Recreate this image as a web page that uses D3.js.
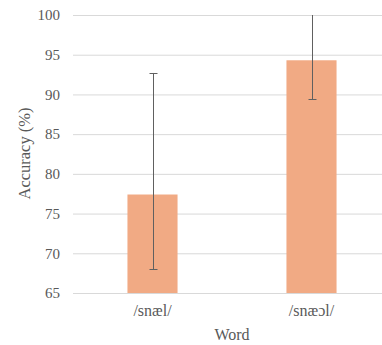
<!DOCTYPE html>
<html><head><meta charset="utf-8">
<script src="https://cdn.jsdelivr.net/npm/d3@7"></script>
<style>body{margin:0;background:#fff}svg{display:block}
svg text{font-family:"Liberation Serif","Times New Roman","DejaVu Serif",serif !important;}</style>
</head><body>
<script>
const categories = ["/snæl/", "/snæɔl/"];
const values = [77.4, 94.3];
const errLow = [68.0, 89.4];
const errHigh = [92.7, 101.5];
const yTicks = [65, 70, 75, 80, 85, 90, 95, 100];

const W = 382, H = 345;
const svg = d3.select("body").append("svg").attr("width", W).attr("height", H);
const y = d3.scaleLinear().domain([65, 100]).range([293, 15]);
const x = d3.scaleBand().domain(categories).range([73, 391]).paddingInner(0.685).paddingOuter(0.3425);

svg.append("defs").append("clipPath").attr("id", "clip")
  .append("rect").attr("x", 0).attr("y", y(100)).attr("width", W).attr("height", y(65) - y(100));

const yAxis = svg.append("g").attr("transform", "translate(73,0)")
  .call(d3.axisLeft(y).tickValues(yTicks).tickSize(-(W - 73)).tickPadding(13).tickFormat(d3.format("d")));
yAxis.attr("font-family", null);
yAxis.select(".domain").remove();
yAxis.selectAll(".tick line").attr("stroke", "#d9d9d9").attr("stroke-width", 1);
yAxis.selectAll(".tick text").attr("fill", "#595959").style("font-size", "15px");

svg.append("g").selectAll("rect").data(categories).join("rect")
  .attr("x", d => x(d)).attr("width", x.bandwidth())
  .attr("y", (d, i) => y(values[i])).attr("height", (d, i) => y(65) - y(values[i]))
  .attr("fill", "#f1aa84");

const eg = svg.append("g").attr("clip-path", "url(#clip)").attr("stroke", "#606060").attr("stroke-width", 1);
categories.forEach((c, i) => {
  const cx = Math.round(x(c) + x.bandwidth() / 2) + 0.5;
  eg.append("line").attr("x1", cx).attr("x2", cx).attr("y1", y(errLow[i])).attr("y2", y(errHigh[i]));
  [errLow[i], errHigh[i]].forEach(v => {
    if (v <= 100) eg.append("line").attr("x1", cx - 4).attr("x2", cx + 4).attr("y1", Math.round(y(v)) + 0.5).attr("y2", Math.round(y(v)) + 0.5);
  });
});

const xAxis = svg.append("g").attr("transform", "translate(0,293)")
  .call(d3.axisBottom(x).tickSize(0).tickPadding(12));
xAxis.attr("font-family", null);
xAxis.select(".domain").attr("stroke", "#d9d9d9");
xAxis.selectAll(".tick text").attr("fill", "#595959").style("font-size", "16px");

svg.append("text").attr("x", 232).attr("y", 340).attr("text-anchor", "middle")
  .attr("fill", "#595959").style("font-size", "16px").text("Word");
svg.append("text").attr("transform", "translate(30,153.5) rotate(-90)").attr("text-anchor", "middle")
  .attr("fill", "#595959").style("font-size", "16.5px").text("Accuracy (%)");
</script>
</body></html>
